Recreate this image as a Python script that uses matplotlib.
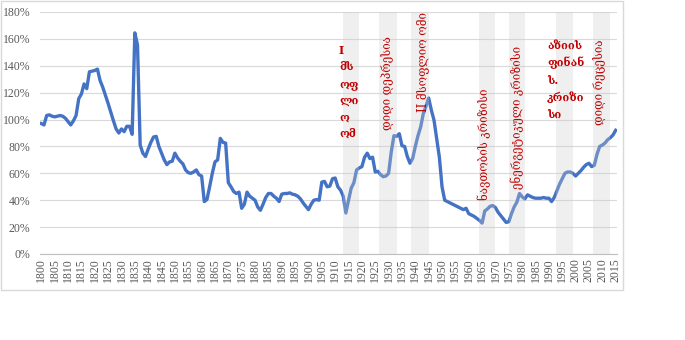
import matplotlib.pyplot as plt
from matplotlib.patches import Rectangle

# debt as share of GDP, one value per year
years = list(range(1800, 2016))
debt = [
    0.97, 0.96, 1.03, 1.035, 1.025, 1.02, 1.025, 1.03, 1.025, 1.01,      # 1800s
    0.985, 0.96, 0.99, 1.03, 1.155, 1.19, 1.265, 1.23, 1.355, 1.36,      # 1810s
    1.365, 1.375, 1.29, 1.24, 1.18, 1.12, 1.055, 0.99, 0.93, 0.90,       # 1820s
    0.93, 0.91, 0.95, 0.95, 0.89, 1.645, 1.555, 0.81, 0.75, 0.725,       # 1830s
    0.78, 0.83, 0.87, 0.875, 0.80, 0.75, 0.70, 0.665, 0.685, 0.69,       # 1840s
    0.75, 0.715, 0.69, 0.67, 0.625, 0.605, 0.60, 0.61, 0.625, 0.59,      # 1850s
    0.58, 0.39, 0.405, 0.50, 0.60, 0.685, 0.70, 0.86, 0.83, 0.825,       # 1860s
    0.53, 0.50, 0.465, 0.45, 0.46, 0.34, 0.37, 0.46, 0.43, 0.415,        # 1870s
    0.40, 0.35, 0.325, 0.37, 0.42, 0.45, 0.45, 0.43, 0.415, 0.39,        # 1880s
    0.445, 0.45, 0.45, 0.455, 0.445, 0.44, 0.43, 0.41, 0.38, 0.355,      # 1890s
    0.33, 0.37, 0.40, 0.405, 0.40, 0.535, 0.54, 0.50, 0.505, 0.56,       # 1900s
    0.565, 0.50, 0.475, 0.43, 0.305, 0.40, 0.49, 0.53, 0.625, 0.64,      # 1910s
    0.65, 0.72, 0.75, 0.71, 0.72, 0.61, 0.615, 0.59, 0.575, 0.58,        # 1920s
    0.60, 0.76, 0.88, 0.875, 0.895, 0.805, 0.80, 0.725, 0.675, 0.71,     # 1930s
    0.80, 0.88, 0.945, 1.045, 1.10, 1.16, 1.07, 0.995, 0.86, 0.72,       # 1940s
    0.50, 0.40, 0.39, 0.38, 0.37, 0.36, 0.35, 0.34, 0.33, 0.34,          # 1950s
    0.30, 0.29, 0.28, 0.265, 0.25, 0.23, 0.32, 0.335, 0.355, 0.36,       # 1960s
    0.345, 0.31, 0.285, 0.26, 0.235, 0.24, 0.30, 0.35, 0.385, 0.45,      # 1970s
    0.425, 0.41, 0.44, 0.43, 0.42, 0.415, 0.415, 0.415, 0.42, 0.415,     # 1980s
    0.415, 0.39, 0.42, 0.47, 0.52, 0.56, 0.60, 0.61, 0.61, 0.60,         # 1990s
    0.58, 0.60, 0.62, 0.645, 0.665, 0.675, 0.65, 0.66, 0.74, 0.80,       # 2000s
    0.81, 0.825, 0.85, 0.865, 0.885, 0.92,                               # 2010s
]

tick_years = list(range(1800, 2016, 5))
y_ticks = [0, 0.2, 0.4, 0.6, 0.8, 1.0, 1.2, 1.4, 1.6, 1.8]

# crisis periods (shaded)
band_start = [1913, 1926.5, 1938.5, 1964, 1975, 1992.5, 2006.5]
band_end = [1919, 1933, 1945, 1970, 1981, 1999, 2013]

# (text, x, y, rotation, alignment)
notes = [
    ("I\nმს\nოფ\nლი\nო\nომ", 1911.4, 1.555, 0, "wrap"),
    ("დიდი დეპრესია", 1929.4, 0.923, 90, "up"),
    ("II მსოფლიო ომი", 1942.7, 1.057, 90, "up"),
    ("ნავთობის კრიზისი", 1966.1, 0.402, 90, "up"),
    ("ენერგეტიკული კრიზისი", 1978.1, 0.484, 90, "up"),
    ("აზიის\nფინან\nს.\nკრიზი\nსი", 1989.3, 1.592, 0, "wrap"),
    ("დიდი რეცესია", 2008.8, 0.96, 90, "up"),
]

note_color = "#c00000"
geo_font = ["DejaVu Serif", "DejaVu Sans"]

fig = plt.figure(figsize=(6.85, 3.4), dpi=100)
ax = fig.add_axes([40 / 685, 86 / 340, 577 / 685, 242 / 340])

ax.plot(years, debt, color="#4472c4", lw=2.4, zorder=2, solid_joinstyle="round")
for s, e in zip(band_start, band_end):
    ax.axvspan(s, e, facecolor="#cdcdcd", alpha=0.3, lw=0, zorder=3)

ax.set_xlim(1799.5, 2015.5)
ax.set_ylim(0, 1.8)
ax.set_yticks(y_ticks)
ax.set_yticklabels([f"{v * 100:.0f}%" for v in y_ticks])
ax.set_xticks(tick_years)
ax.set_xticklabels([str(y) for y in tick_years], rotation=90)
ax.yaxis.grid(True, color="#d9d9d9", lw=0.8)
ax.set_axisbelow(True)
for side in ["top", "right", "left"]:
    ax.spines[side].set_visible(False)
ax.spines["bottom"].set_color("#bfbfbf")
ax.tick_params(length=0, colors="#595959", labelsize=8.5)
ax.tick_params(axis="y", pad=7)
ax.tick_params(axis="x", pad=3)
for lab in ax.get_xticklabels() + ax.get_yticklabels():
    lab.set_fontfamily("Liberation Serif")

for text, x, y, rot, kind in notes:
    if kind == "wrap":
        ax.text(x, y, text, ha="left", va="top", color=note_color, fontsize=8,
                fontweight="bold", family=geo_font, linespacing=1.6, zorder=4)
    else:
        ax.text(x, y, text, ha="center", va="bottom", rotation=rot, color=note_color,
                fontsize=8.3, family=geo_font, zorder=4)

# chart frame
fig.patches.append(Rectangle((1 / 685, 50 / 340), 622 / 685, 289 / 340,
                             transform=fig.transFigure, fill=False,
                             edgecolor="#d9d9d9", lw=1))

fig.savefig("out.png", dpi=100)
